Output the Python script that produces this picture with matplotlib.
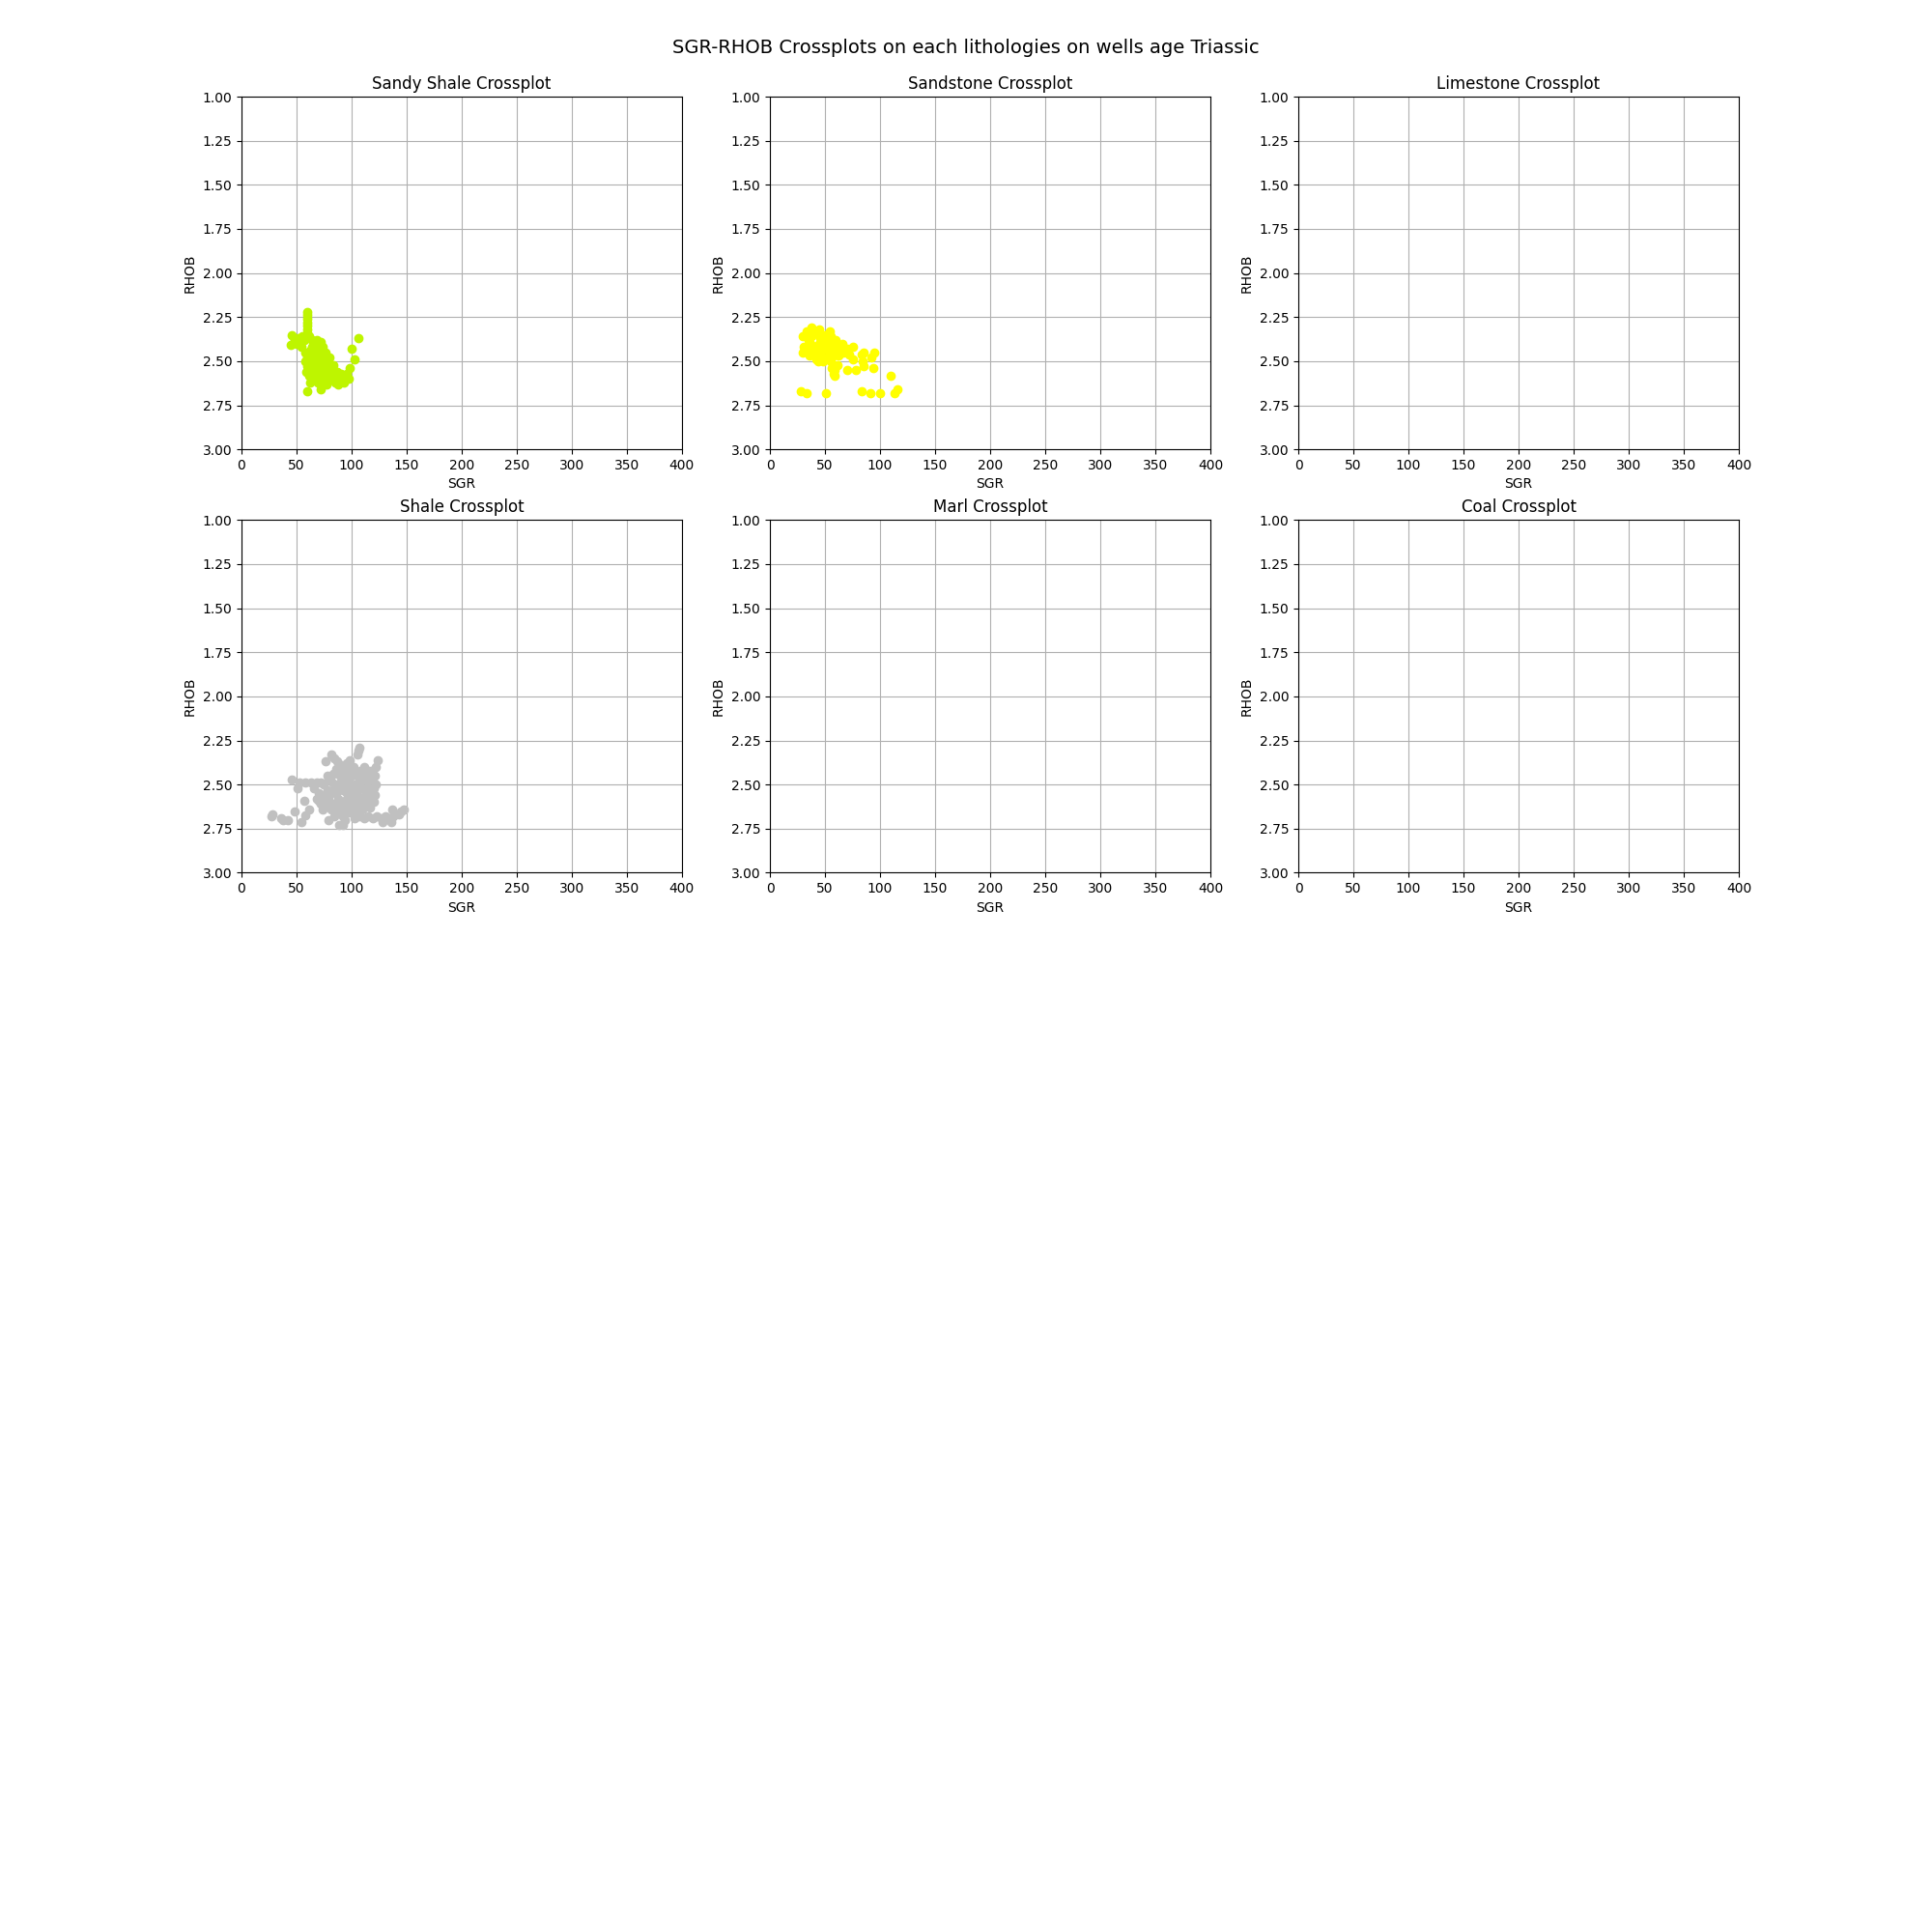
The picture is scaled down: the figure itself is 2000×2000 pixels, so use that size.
import numpy as np
import matplotlib
matplotlib.use('Agg')
import matplotlib.pyplot as plt

#---Lithology names and colours
lithologies = ['Sandy Shale', 'Sandstone', 'Limestone', 'Shale', 'Marl', 'Coal']
colors = ['#bef500', '#ffff00', '#80c0ff', '#c0c0c0', '#66ccff', '#000000']

#---Sandy Shale (SGR, RHOB)
sandy_shale_sgr = [60, 60, 60, 60, 60, 60, 60, 61,
                   46, 45, 48, 52, 55, 50, 54, 57,
                   64, 68, 72, 66,
                   58, 62, 60, 63, 60, 62, 61, 64, 66, 68, 70, 72, 74, 75, 72, 69, 78, 80, 77, 82,
                   84, 80, 86, 88, 90, 92, 94, 96, 75, 70, 66, 64, 58, 59, 62, 85, 89, 76, 80,
                   62, 65, 67, 70, 73, 76, 78, 80, 83, 85, 87, 90, 93, 63, 65, 67, 71, 74, 78, 82,
                   64, 68, 70, 74,
                   106, 100, 103, 98, 97, 60, 72, 69, 77, 88]
sandy_shale_rhob = [2.22, 2.24, 2.26, 2.28, 2.30, 2.32, 2.34, 2.36,
                    2.35, 2.41, 2.38, 2.37, 2.36, 2.40, 2.42, 2.38,
                    2.38, 2.38, 2.39, 2.40,
                    2.45, 2.44, 2.48, 2.50, 2.53, 2.56, 2.58, 2.60, 2.54, 2.47, 2.50, 2.44, 2.47, 2.52, 2.56, 2.58, 2.49, 2.52, 2.55, 2.55,
                    2.58, 2.58, 2.56, 2.59, 2.60, 2.58, 2.60, 2.57, 2.58, 2.53, 2.46, 2.42, 2.50, 2.56, 2.62, 2.62, 2.62, 2.45, 2.48,
                    2.47, 2.49, 2.52, 2.47, 2.50, 2.50, 2.52, 2.55, 2.52, 2.59, 2.56, 2.57, 2.62, 2.53, 2.57, 2.60, 2.62, 2.60, 2.58, 2.60,
                    2.46, 2.43, 2.41, 2.42,
                    2.37, 2.43, 2.49, 2.54, 2.60, 2.67, 2.66, 2.62, 2.63, 2.63]

#---Sandstone (SGR, RHOB)
sandstone_sgr = [30, 31, 30, 33, 35, 35, 38, 40, 38, 37, 40, 42, 44, 46, 45, 48, 47, 50, 52, 50, 53, 55,
                 57, 56, 59, 60, 62, 64, 66, 52, 55, 58, 62, 67, 70, 72, 42, 36, 45, 54, 48, 56, 58,
                 28, 33, 51, 83, 91, 100, 113, 116, 110, 94, 85, 78, 70, 84, 92, 95, 85, 83, 75, 75,
                 59, 59, 61, 44]
sandstone_rhob = [2.36, 2.42, 2.45, 2.33, 2.38, 2.44, 2.31, 2.33, 2.36, 2.40, 2.42, 2.45, 2.34, 2.37, 2.40, 2.43, 2.47, 2.35, 2.38, 2.41, 2.44, 2.36,
                  2.39, 2.42, 2.45, 2.38, 2.41, 2.44, 2.40, 2.48, 2.50, 2.47, 2.47, 2.45, 2.43, 2.46, 2.49, 2.47, 2.32, 2.33, 2.50, 2.54, 2.57,
                  2.67, 2.68, 2.68, 2.67, 2.68, 2.68, 2.68, 2.66, 2.58, 2.54, 2.53, 2.55, 2.55, 2.50, 2.48, 2.45, 2.45, 2.46, 2.49, 2.42,
                  2.58, 2.55, 2.52, 2.50]

#---Shale (SGR, RHOB)
shale_sgr = [28, 27, 36, 38, 42, 48, 54, 58, 61, 57, 46, 51, 53, 58, 63, 68, 72, 79, 89, 94, 92,
             76, 82, 84, 87, 90, 96, 107, 106, 105, 124, 122, 121, 118,
             103, 107, 111, 115, 119, 123, 127, 131, 135, 138, 128, 136, 137, 143, 147, 145,
             66, 70, 68, 72, 75, 78, 76, 80, 82, 79, 83, 85, 86, 88, 90, 87, 92, 90, 93, 95, 96, 94, 98,
             100, 102, 103, 104, 101, 105, 107, 108, 110, 112, 109, 112, 115, 116, 118, 114, 119, 120, 121,
             98, 100, 74, 84, 97, 110, 117,
             78, 82, 84, 88, 92, 92, 96, 98, 100, 98, 102, 106, 106, 108, 113, 117, 104, 96, 88, 80,
             84, 88, 92, 95, 100, 104, 116, 120, 122, 111, 106, 100, 86, 73, 70, 77, 111, 115, 119]
shale_rhob = [2.67, 2.68, 2.69, 2.70, 2.70, 2.65, 2.71, 2.675, 2.64, 2.59, 2.47, 2.52, 2.49, 2.49, 2.49, 2.49, 2.49, 2.70, 2.73, 2.70, 2.73,
              2.37, 2.33, 2.35, 2.37, 2.39, 2.38, 2.29, 2.31, 2.33, 2.36, 2.40, 2.45, 2.42,
              2.69, 2.68, 2.69, 2.68, 2.69, 2.68, 2.69, 2.68, 2.69, 2.68, 2.71, 2.71, 2.64, 2.67, 2.64, 2.65,
              2.52, 2.55, 2.58, 2.61, 2.50, 2.53, 2.57, 2.60, 2.64, 2.47, 2.44, 2.50, 2.55, 2.58, 2.62, 2.66, 2.68, 2.46, 2.42, 2.50, 2.55, 2.59, 2.63,
              2.45, 2.40, 2.50, 2.55, 2.59, 2.63, 2.47, 2.42, 2.52, 2.56, 2.60, 2.44, 2.49, 2.53, 2.57, 2.61, 2.48, 2.52, 2.56,
              2.36, 2.40, 2.64, 2.68, 2.66, 2.64, 2.63,
              2.45, 2.48, 2.52, 2.50, 2.48, 2.53, 2.46, 2.50, 2.53, 2.57, 2.62, 2.58, 2.52, 2.49, 2.52, 2.46, 2.44, 2.42, 2.44, 2.56,
              2.61, 2.65, 2.63, 2.66, 2.66, 2.66, 2.59, 2.60, 2.50, 2.47, 2.45, 2.43, 2.41, 2.56, 2.59, 2.61, 2.40, 2.42, 2.44]

#---Limestone, Marl and Coal have no samples in the Triassic wells
sgr_data = [sandy_shale_sgr, sandstone_sgr, [], shale_sgr, [], []]
rhob_data = [sandy_shale_rhob, sandstone_rhob, [], shale_rhob, [], []]

# %%
fig, axes = plt.subplots(4, 3, figsize=(20, 20))
fig.subplots_adjust(top=0.95)
fig.suptitle('SGR-RHOB Crossplots on each lithologies on wells age Triassic', fontsize=14)

for i, ax in enumerate(axes.flat):
    if i >= len(lithologies):
        ax.axis('off')
        continue
    ax.scatter(sgr_data[i], rhob_data[i], color=colors[i], zorder=2)
    ax.set_xlim(0, 400)
    ax.set_ylim(3, 1)
    ax.set_xlabel('SGR')
    ax.set_ylabel('RHOB')
    ax.set_title(lithologies[i] + ' Crossplot')
    ax.grid(True)

plt.savefig('out.png')
